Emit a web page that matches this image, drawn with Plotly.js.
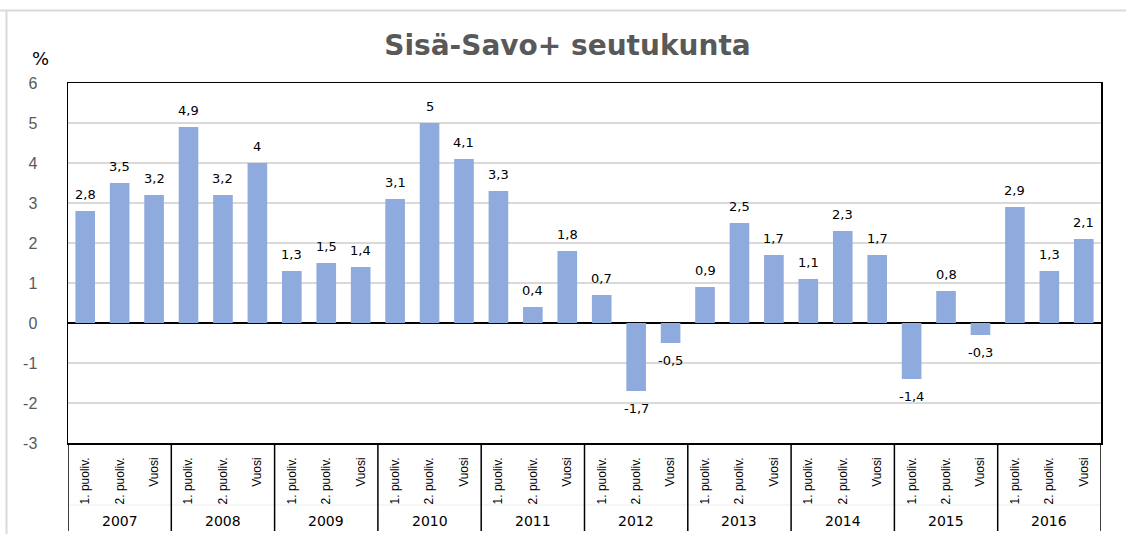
<!DOCTYPE html>
<html>
<head>
<meta charset="utf-8">
<script src="https://cdn.plot.ly/plotly-3.0.1.min.js"></script>
<style>
html,body{margin:0;padding:0;background:#fff;}
#chart{width:1126px;height:534px;}
</style>
</head>
<body>
<div id="chart"></div>
<script>
// ---- data ----
const years = ['2007','2008','2009','2010','2011','2012','2013','2014','2015','2016'];
const periods = ['1. puoliv.','2. puoliv.','Vuosi'];
const values2007 = [2.8, 3.5, 3.2];
const values2008 = [4.9, 3.2, 4];
const values2009 = [1.3, 1.5, 1.4];
const values2010 = [3.1, 5, 4.1];
const values2011 = [3.3, 0.4, 1.8];
const values2012 = [0.7, -1.7, -0.5];
const values2013 = [0.9, 2.5, 1.7];
const values2014 = [1.1, 2.3, 1.7];
const values2015 = [-1.4, 0.8, -0.3];
const values2016 = [2.9, 1.3, 2.1];
const yTicks = [-3,-2,-1,0,1,2,3,4,5,6];
const titleText = 'Sisä-Savo+ seutukunta';
const unitText = '%';

// ---- build ----
const valueGroups = [values2007,values2008,values2009,values2010,values2011,
                     values2012,values2013,values2014,values2015,values2016];
const xs = [], ys = [], tickvals = [], ticktext = [];
valueGroups.forEach((grp, g) => {
  grp.forEach((v, k) => {
    const idx = g * periods.length + k;
    xs.push(idx); ys.push(v);
    tickvals.push(idx); ticktext.push(periods[k]);
  });
});
const fmt = v => String(v).replace('.', ',');

// plot geometry (pixels)
const W = 1126, H = 534;
const L = 68, R = 25, T = 83, B = 91;
const pw = W - L - R, ph = H - T - B;
const px = x => (x - L) / pw;
const py = y => (H - B - y) / ph;

const annotations = [];
xs.forEach((x, i) => {
  const v = ys[i];
  annotations.push({
    x: x, y: v, xref: 'x', yref: 'y', text: fmt(v), showarrow: false,
    yanchor: v >= 0 ? 'bottom' : 'top', yshift: v >= 0 ? 7 : -8,
    font: {family: 'DejaVu Sans', size: 13, color: '#000'}
  });
});
years.forEach((yr, g) => {
  annotations.push({
    x: g * periods.length + (periods.length - 1) / 2, xref: 'x',
    y: py(521), yref: 'paper', yanchor: 'middle', text: yr, showarrow: false,
    font: {family: 'DejaVu Sans', size: 14, color: '#000'}
  });
});
annotations.push({
  x: px(40), y: py(58), xref: 'paper', yref: 'paper', text: unitText,
  showarrow: false, xanchor: 'center', yanchor: 'middle',
  font: {family: 'DejaVu Sans', size: 18, color: '#000'}
});

const shapes = [];
// faint separator between label levels
shapes.push({type: 'line', xref: 'paper', yref: 'paper', x0: 0, x1: 1,
  y0: py(505), y1: py(505), line: {color: '#ececec', width: 1}});
for (let g = 0; g <= years.length; g++) {
  const xb = g * periods.length - 0.5;
  shapes.push({type: 'line', xref: 'x', yref: 'paper', x0: xb, x1: xb,
    y0: 0, y1: py(531), line: {color: '#000', width: 1.5}});
}
// outer chart frame (light gray)
shapes.push({type: 'line', xref: 'paper', yref: 'paper', x0: px(0), x1: px(W),
  y0: py(10.5), y1: py(10.5), line: {color: '#d9d9d9', width: 2}});
shapes.push({type: 'line', xref: 'paper', yref: 'paper', x0: px(6.5), x1: px(6.5),
  y0: py(11), y1: py(H), line: {color: '#d9d9d9', width: 2}});

const trace = {
  type: 'bar', x: xs, y: ys,
  marker: {color: '#8faadc', line: {width: 0}},
  hoverinfo: 'skip', cliponaxis: false
};

const layout = {
  width: W, height: H,
  margin: {l: L, r: R, t: T, b: B, pad: 0},
  paper_bgcolor: '#fff', plot_bgcolor: '#fff',
  showlegend: false,
  bargap: 0.43,
  title: {text: '<b>' + titleText + '</b>', xref: 'container', x: 0.504, xanchor: 'center',
          yref: 'container', y: 1 - 45 / H, yanchor: 'middle',
          font: {family: 'DejaVu Sans', size: 28, color: '#595959'}},
  xaxis: {
    range: [-0.5, xs.length - 0.5], tickvals: tickvals, ticktext: ticktext,
    tickangle: -90, ticks: '', ticklabelstandoff: 8,
    tickfont: {family: 'Liberation Sans Narrow, Liberation Sans', size: 12, color: '#000'},
    showgrid: false, zeroline: false,
    showline: true, linecolor: '#000', linewidth: 1.5, mirror: true
  },
  yaxis: {
    range: [yTicks[0], yTicks[yTicks.length - 1]],
    tickvals: yTicks, ticktext: yTicks.map(String),
    ticks: '', ticklabelstandoff: 26,
    tickfont: {family: 'Liberation Sans', size: 16, color: '#595959'},
    showgrid: true, gridcolor: '#d9d9d9', gridwidth: 1.2,
    zeroline: true, zerolinecolor: '#000', zerolinewidth: 1.5,
    showline: true, linecolor: '#000', linewidth: 1.5, mirror: true
  },
  annotations: annotations,
  shapes: shapes
};

Plotly.newPlot('chart', [trace], layout, {displayModeBar: false, staticPlot: true});
</script>
</body>
</html>
